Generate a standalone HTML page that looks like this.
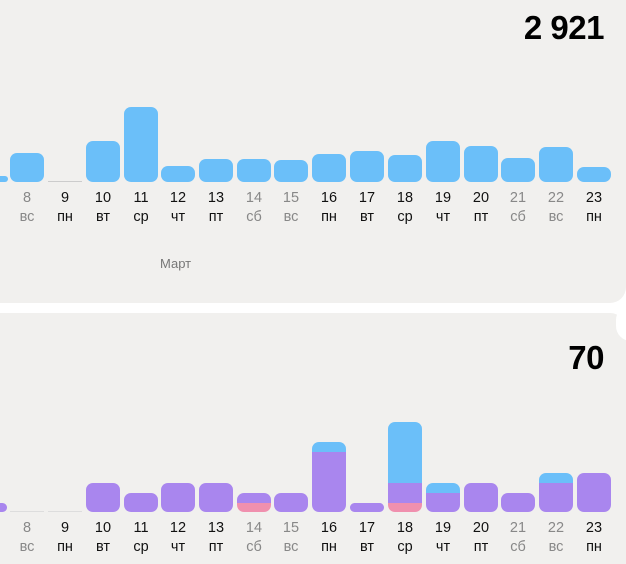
<!DOCTYPE html>
<html><head><meta charset="utf-8"><style>
html,body{margin:0;padding:0;width:626px;height:564px;overflow:hidden;background:#fff;font-family:"Liberation Sans","DejaVu Sans",sans-serif;}
.card{position:absolute;left:0;width:626px;background:#f1f0ee;}
.b{position:absolute;width:34px;border-radius:7px;overflow:hidden;}
.s{position:absolute;left:0;width:100%;}
.n,.w{position:absolute;width:40px;text-align:center;font-size:14.5px;color:#111;}
.g{color:#888;}
.big{position:absolute;right:22px;font-weight:bold;font-size:33px;color:#000;letter-spacing:-0.5px;}
</style></head><body>
<div class="card" style="top:0;height:303px;border-radius:0 0 16px 0;"></div>
<div class="card" style="top:313px;height:251px;border-radius:0 16px 0 0;"></div>
<div style="position:absolute;left:616px;top:305px;width:30px;height:36px;border-radius:18px;background:#fff;"></div>
<div class="big" style="top:9px;">2 921</div>
<div class="big" style="top:339px;">70</div>
<div style="position:absolute;left:160px;top:256px;font-size:13px;color:#777;">Март</div>
<div id="c"></div>
<script>
var xs=[27,65,103,141,178,216,254,291,329,367,405,443,481,518,556,594];
var days=[8,9,10,11,12,13,14,15,16,17,18,19,20,21,22,23];
var wd=['вс','пн','вт','ср','чт','пт','сб','вс','пн','вт','ср','чт','пт','сб','вс','пн'];
var gray=[1,0,0,0,0,0,1,1,0,0,0,0,0,1,1,0];
var top1=[153,null,141,107,166,159,159,160,154,151,155,141,146,158,147,167];
var B='#6bbff9',P='#a986ee',K='#f090ae';
var bot=[null,null,[[483,P]],[[493,P]],[[483,P]],[[483,P]],[[493,P],[503,K]],[[493,P]],[[442,B],[452,P]],[[503,P]],[[422,B],[483,P],[503,K]],[[483,B],[493,P]],[[483,P]],[[493,P]],[[473,B],[483,P]],[[473,P]]];
var h='';
function lab(i,yn,yw){var c=gray[i]?' g':'';h+='<div class="n'+c+'" style="left:'+(xs[i]-20)+'px;top:'+yn+'px">'+days[i]+'</div><div class="w'+c+'" style="left:'+(xs[i]-20)+'px;top:'+yw+'px">'+wd[i]+'</div>';}
for(var i=0;i<16;i++){
 var x=xs[i]-17;
 if(top1[i]==null){h+='<div style="position:absolute;left:'+x+'px;top:181px;width:34px;height:1px;background:#ccc"></div>';}
 else h+='<div class="b" style="left:'+x+'px;top:'+top1[i]+'px;height:'+(182-top1[i])+'px;background:'+B+'"></div>';
 lab(i,190,209);
 var s=bot[i];
 if(!s){h+='<div style="position:absolute;left:'+x+'px;top:511px;width:34px;height:1px;background:#ddd"></div>';}
 else{var t=s[0][0];h+='<div class="b" style="left:'+x+'px;top:'+t+'px;height:'+(512-t)+'px">';
  for(var j=0;j<s.length;j++){var e=j+1<s.length?s[j+1][0]:512;h+='<div class="s" style="top:'+(s[j][0]-t)+'px;height:'+(e-s[j][0])+'px;background:'+s[j][1]+'"></div>';}
  h+='</div>';}
 lab(i,520,539);
}
h+='<div style="position:absolute;left:-10px;top:176px;width:18px;height:6px;border-radius:4px;background:'+B+'"></div>';
h+='<div style="position:absolute;left:-10px;top:503px;width:17px;height:9px;border-radius:5px;background:'+P+'"></div>';
document.getElementById('c').innerHTML=h;
</script>
</body></html>
